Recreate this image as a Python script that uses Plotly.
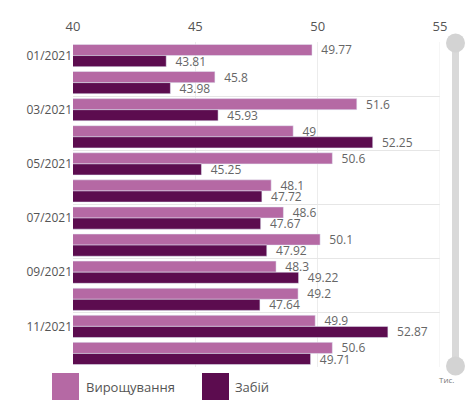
import plotly.graph_objects as go

months = ["01/2021", "02/2021", "03/2021", "04/2021", "05/2021", "06/2021",
          "07/2021", "08/2021", "09/2021", "10/2021", "11/2021", "12/2021"]
growing = [49.77, 45.8, 51.6, 49, 50.6, 48.1, 48.6, 50.1, 48.3, 49.2, 49.9, 50.6]
slaughter = [43.81, 43.98, 45.93, 52.25, 45.25, 47.72, 47.67, 47.92, 49.22, 47.64, 52.87, 49.71]
series_names = ["Вирощування", "Забій"]
x_ticks = [40, 45, 50, 55]

c_light = "#b569a4"
c_dark = "#5c0c4f"
txt = "#666666"
W, H = 467, 400
ml, mr, mt, mb = 73, 27, 42, 33
pw, ph = W - ml - mr, H - mt - mb

def px(x):
    return (x - ml) / pw

def py(y):
    return 1 - (y - mt) / ph

fig = go.Figure()
for name, vals, col in [(series_names[0], growing, c_light), (series_names[1], slaughter, c_dark)]:
    fig.add_trace(go.Bar(
        y=months, x=vals, orientation="h", name=name, marker_color=col,
        text=[f"  {v:g}" for v in vals], textposition="outside", cliponaxis=False,
        constraintext="none",
        textfont=dict(color=txt, size=12), showlegend=False,
    ))

shapes = []
# scrollbar
shapes.append(dict(type="rect", xref="paper", yref="paper", x0=px(452), x1=px(459),
                   y0=py(366), y1=py(43), fillcolor="#d9d9d9", line_width=0, layer="above"))
for cy in (43, 366):
    shapes.append(dict(type="circle", xref="paper", yref="paper", x0=px(446), x1=px(465),
                       y0=py(cy + 9.5), y1=py(cy - 9.5), fillcolor="#d3d3d3", line_width=0))
# legend squares
for x0, col in [(52, c_light), (202, c_dark)]:
    shapes.append(dict(type="rect", xref="paper", yref="paper", x0=px(x0), x1=px(x0 + 27),
                       y0=py(400), y1=py(373), fillcolor=col, line_width=0))

annotations = [
    dict(text=series_names[0], xref="paper", yref="paper", x=px(84), y=py(387), xanchor="left",
         yanchor="middle", showarrow=False, font=dict(size=13, color="#555555")),
    dict(text=series_names[1], xref="paper", yref="paper", x=px(233), y=py(387), xanchor="left",
         yanchor="middle", showarrow=False, font=dict(size=13, color="#555555")),
    dict(text="Тис.", xref="paper", yref="paper", x=px(437), y=py(379), xanchor="left",
         yanchor="middle", showarrow=False, font=dict(size=8, color="#777777")),
]

fig.update_layout(
    width=W, height=H, margin=dict(l=ml, r=mr, t=mt, b=mb),
    paper_bgcolor="white", plot_bgcolor="white",
    font=dict(family="Open Sans, sans-serif", color=txt, size=12),
    barmode="group", bargap=0.18, bargroupgap=0.0,
    shapes=shapes, annotations=annotations,
    xaxis=dict(side="top", range=[40, 55], tickvals=x_ticks, showgrid=True,
               gridcolor="#ececec", zeroline=False, showline=False, automargin=False,
               ticklabelstandoff=7,
               tickfont=dict(size=13, color="#555555"), fixedrange=True),
    yaxis=dict(type="category", autorange="reversed", tickmode="linear", tick0=0, dtick=2,
               tickson="boundaries", showgrid=True, gridcolor="#e6e6e6", ticks="",
               automargin=False,
               tickfont=dict(size=12, color="#555555"), showline=False, ticklen=0),
)
fig.add_shape(type="line", xref="x", yref="paper", x0=55, x1=55, y0=0, y1=1,
              line=dict(color="#ececec", width=1))
fig.write_html("out.html", config={"displayModeBar": False},
               post_script="document.body.style.margin='0';document.body.style.overflow='hidden';")
